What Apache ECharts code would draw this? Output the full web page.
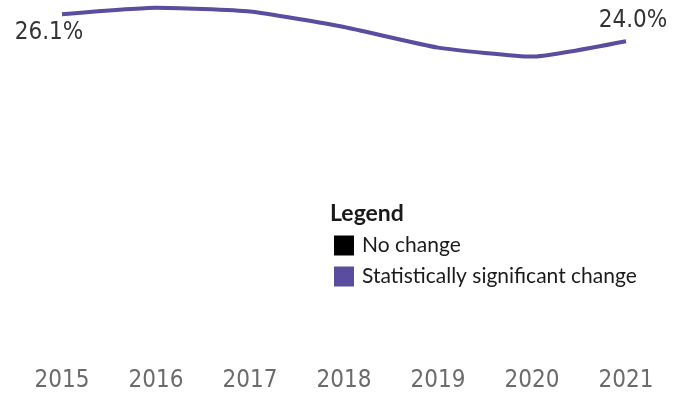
<!DOCTYPE html>
<html>
<head>
<meta charset="utf-8">
<script src="https://cdn.jsdelivr.net/npm/echarts@6/dist/echarts.min.js"></script>
<style>
  html, body { margin: 0; padding: 0; background: #fff; }
  #chart { width: 688px; height: 394px; }
</style>
</head>
<body>
<div id="chart"></div>
<script>
const years = ['2015', '2016', '2017', '2018', '2019', '2020', '2021']
const rates = [26.1, 26.6, 26.3, 25.1, 23.5, 22.8, 24.0]
const legendNames = ['No change', 'Statistically significant change']

const purple = '#5a4c9e'

// only the first and last points carry a label
const lineData = rates.map(function (v, i) {
  if (i === 0) {
    return { value: v, label: { show: true, position: 'bottom', offset: [-13, 2] } }
  }
  if (i === rates.length - 1) {
    return { value: v, label: { show: true, position: 'top', offset: [7, -3] } }
  }
  return v
})

const chart = echarts.init(document.getElementById('chart'))
chart.setOption({
  animation: false,
  title: {
    text: 'Legend',
    left: 330,
    top: 202,
    padding: 0,
    textStyle: {
      fontFamily: 'Lato',
      fontWeight: 'bold',
      fontSize: 23,
      color: '#1a1a1a'
    }
  },
  legend: {
    orient: 'vertical',
    left: 334,
    top: 235,
    padding: 0,
    icon: 'rect',
    itemWidth: 20,
    itemHeight: 20,
    itemGap: 10,
    data: legendNames,
    textStyle: {
      fontFamily: 'Lato',
      fontSize: 21,
      color: '#1a1a1a',
      padding: [0, 0, 0, 3]
    }
  },
  grid: {
    left: 15,
    right: 15,
    top: 0,
    bottom: 44
  },
  xAxis: {
    type: 'category',
    data: years,
    axisLine: { show: false },
    axisTick: { show: false },
    axisLabel: {
      margin: 19,
      fontFamily: 'DejaVu Sans Condensed',
      fontSize: 24,
      color: '#6b6b6b'
    }
  },
  yAxis: {
    type: 'value',
    min: 0,
    max: 27.2,
    show: false
  },
  series: [{
    name: legendNames[0],
    type: 'line',
    data: [],
    itemStyle: { color: '#000' }
  }, {
    name: legendNames[1],
    type: 'line',
    data: lineData,
    smooth: 0.15,
    symbol: 'circle',
    symbolSize: 0,
    showSymbol: true,
    lineStyle: { color: purple, width: 4 },
    itemStyle: { color: purple },
    label: {
      show: false,
      fontFamily: 'DejaVu Sans Condensed',
      fontSize: 24,
      color: '#333',
      formatter: function (p) {
        return p.value.toFixed(1) + '%'
      }
    }
  }]
})
</script>
</body>
</html>
